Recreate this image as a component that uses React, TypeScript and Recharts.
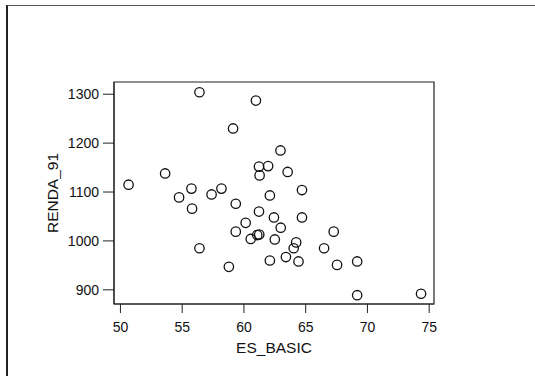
import React from 'react';
import { ScatterChart, Scatter, XAxis, YAxis, ReferenceArea } from 'recharts';

// ES_BASIC (x) and RENDA_91 (y) for each observation
const esBasic = [
  50.66, 53.62, 54.75, 55.75, 55.8, 56.4, 56.4, 57.38, 58.18, 58.78,
  59.12, 59.34, 59.34, 60.14, 60.55, 60.97, 61.08, 61.24, 61.22, 61.27,
  61.22, 61.96, 62.1, 62.1, 62.43, 62.5, 62.96, 62.98, 63.4, 63.54,
  64.03, 64.23, 64.42, 64.7, 64.7, 66.49, 67.27, 67.54, 69.17, 69.17,
  74.34,
];
const renda91 = [
  1115, 1138, 1089, 1107, 1066, 1304, 985, 1095, 1107, 947,
  1230, 1076, 1019, 1037, 1004, 1287, 1012, 1013, 1152, 1134,
  1060, 1153, 1093, 960, 1048, 1003, 1185, 1027, 967, 1141,
  985, 997, 958, 1104, 1048, 985, 1019, 951, 958, 889,
  892,
];

const xTicks = [50, 55, 60, 65, 70, 75];
const yTicks = [900, 1000, 1100, 1200, 1300];
const xDomain: [number, number] = [49.48, 75.39];
const yDomain: [number, number] = [871, 1325];

const points = esBasic.map((x, i) => ({ x, y: renda91[i] }));

const FONT = '"Liberation Sans Narrow", "Arial Narrow", "Liberation Sans", Arial, sans-serif';
const LABEL_FONT = '"Liberation Sans", Arial, sans-serif';

const Ring = (props: any) => (
  <circle cx={props.cx} cy={props.cy} r={4.7} fill="none" stroke="#111" strokeWidth={1.3} />
);

export default function App() {
  return (
    <div style={{ position: 'fixed', left: 0, top: 0, width: 535, height: 376, background: '#fff' }}>
      <div
        style={{
          position: 'absolute',
          left: 6,
          top: 5,
          width: 529,
          height: 371,
          borderTop: '1.5px solid #555',
          borderLeft: '2px solid #222',
          boxSizing: 'border-box',
        }}
      />
      <ScatterChart width={535} height={376} margin={{ top: 82, right: 101, bottom: 0, left: 0 }}>
        <XAxis
          type="number"
          dataKey="x"
          domain={xDomain}
          ticks={xTicks}
          allowDataOverflow
          height={72}
          tickSize={9}
          tickMargin={9}
          stroke="#222"
          tick={{ fill: '#111', fontSize: 14, fontFamily: FONT }}
          label={{
            value: 'ES_BASIC',
            position: 'insideBottom',
            offset: 23,
            fill: '#111',
            fontSize: 15.5,
            fontFamily: LABEL_FONT,
          }}
        />
        <YAxis
          type="number"
          dataKey="y"
          domain={yDomain}
          ticks={yTicks}
          allowDataOverflow
          width={114}
          tickSize={11}
          tickMargin={4}
          stroke="#222"
          tick={{ fill: '#111', fontSize: 14, fontFamily: FONT }}
          label={{
            value: 'RENDA_91',
            angle: -90,
            position: 'insideLeft',
            offset: 52,
            fill: '#111',
            fontSize: 15.5,
            fontFamily: LABEL_FONT,
            style: { textAnchor: 'middle' },
          }}
        />
        <ReferenceArea
          x1={xDomain[0]}
          x2={xDomain[1]}
          y1={yDomain[0]}
          y2={yDomain[1]}
          fill="none"
          fillOpacity={0}
          stroke="#222"
          strokeWidth={1.2}
          ifOverflow="visible"
        />
        <Scatter data={points} shape={Ring} isAnimationActive={false} />
      </ScatterChart>
    </div>
  );
}
